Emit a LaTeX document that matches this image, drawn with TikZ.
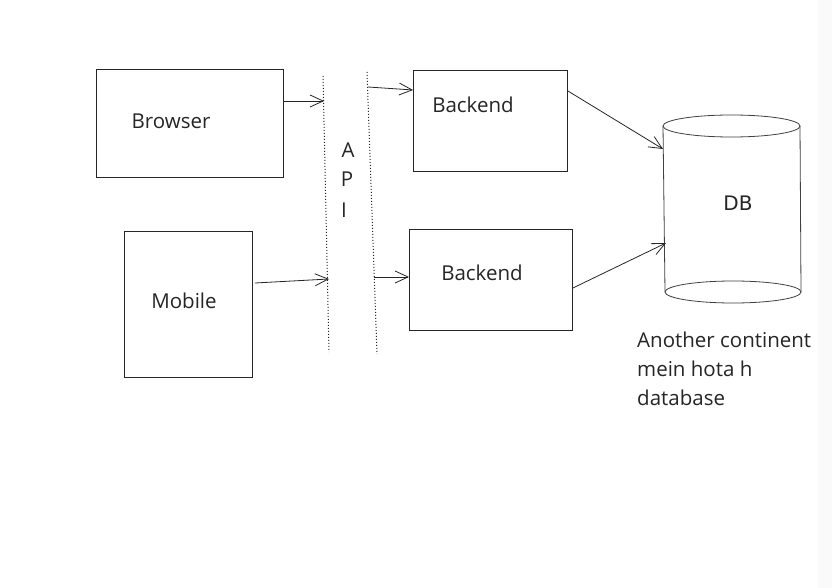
\documentclass[tikz,border=0pt]{standalone}
\usepackage{fontspec}
\setmainfont{Open Sans}
\newfontfamily\dbfont{DejaVu Sans}
\usetikzlibrary{arrows.meta}
\tikzset{
  box/.style={draw=black!85, line width=0.9pt, inner sep=0pt, anchor=north west},
  lbl/.style={font=\fontsize{20.5}{24}\selectfont, text=black!85, inner sep=0pt},
  arr/.style={draw=black!85, line width=0.8pt, -{Straight Barb[length=13pt,width=12pt,line width=0.8pt]}},
  apiline/.style={draw=black!85, line width=1pt, dotted},
  cyl/.style={draw=black!75, line width=0.8pt},
}
\begin{document}
\begin{tikzpicture}[x=1pt,y=-1pt]
\useasboundingbox (0,0) rectangle (832,588);
\fill[white] (0,0) rectangle (832,588);
\fill[black!2] (818,0) rectangle (832,588);
% boxes
\node[box, minimum width=187pt, minimum height=108pt] (browser) at (96,69) {};
\node[box, minimum width=128pt, minimum height=146pt] (mobile) at (124,231) {};
\node[box, minimum width=154pt, minimum height=101pt] (back1) at (413,70) {};
\node[box, minimum width=163pt, minimum height=101pt] (back2) at (409,229) {};
% labels
\node[lbl] (tbrowser) at (171,121) {Browser};
\node[lbl] (tmobile) at (184,301) {Mobile};
\node[lbl] (tback1) at (473,105) {Backend};
\node[lbl] (tback2) at (482,273) {Backend};
% API lines
\coordinate (la) at (323,76);
\coordinate (lb) at (329,352);
\coordinate (ra) at (367,72);
\coordinate (rb) at (377,354);
\draw[apiline] (la) -- (lb);
\draw[apiline] (ra) -- (rb);
\node[lbl] (tA) at (348,150) {A};
\node[lbl] (tP) at (347,179) {P};
\node[lbl] (tI) at (344,210) {I};
% DB cylinder
\draw[cyl] (731.5,126) ellipse [x radius=68.5pt, y radius=11pt];
\draw[cyl] (733,292) ellipse [x radius=68pt, y radius=11pt];
\draw[cyl] (663,126) -- (665,292);
\draw[cyl] (800,126) -- (801,292);
\node[font=\dbfont\fontsize{20}{24}\selectfont, text=black!85, inner sep=0pt] (tdb) at (738,203) {DB};
\coordinate (db1) at (663,149);
\coordinate (db2) at (666,243);
% caption
\node[lbl, anchor=north west, align=left, font=\fontsize{20.5}{29}\selectfont] (cap) at (637,332) {Another continent\\mein hota h\\database};
% connectors
\coordinate (e1) at (324,101);
\coordinate (s2) at (368,87);
\coordinate (e3) at (329,279);
\coordinate (s4) at (374,277);
\draw[arr] (browser.east |- e1) -- (e1);
\draw[arr] (s2) -- (back1.west |- 0,90);
\draw[arr] (255,283) -- (e3);
\draw[arr] (s4) -- (back2.west |- s4);
\draw[arr] (back1.east |- 0,91) -- (db1);
\draw[arr] (back2.east |- 0,288) -- (db2);
\end{tikzpicture}
\end{document}
